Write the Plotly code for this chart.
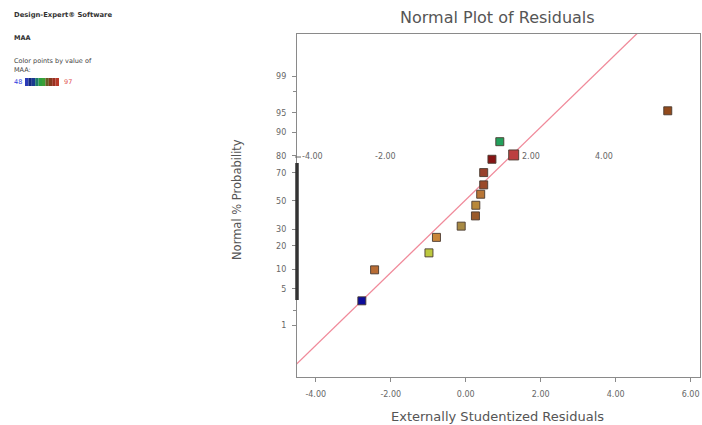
import plotly.graph_objects as go
from statistics import NormalDist

# ---------------- data ----------------
residuals = [-2.77, -2.43, -0.98, -0.78, -0.12, 0.26, 0.27, 0.40, 0.48, 0.48, 0.70, 1.28, 0.91, 5.39]
prob_pct = [3.1, 9.9, 16.6, 24.8, 31.9, 39.0, 46.8, 55.0, 61.8, 70.2, 78.2, 80.5, 86.6, 95.4]
point_colors = ["#0c0c9a", "#b86c34", "#bcc83e", "#c9863a", "#a88a44", "#9a5a2a",
                "#b8883a", "#b87636", "#9a4a2a", "#98402c", "#861414", "#bc4040",
                "#22a05c", "#924a1c"]
point_sizes = [8, 8, 8, 8, 8, 8, 8, 8, 8, 8, 8, 10, 8, 8]

ytick_pct = [1, 5, 10, 20, 30, 50, 70, 80, 90, 95, 99]
ytick_minor_pct = [2, 98]
xtick_vals = [-4, -2, 0, 2, 4, 6]
xtick_text = ["-4.00", "-2.00", "0.00", "2.00", "4.00", "6.00"]

# reference line (normal z vs residual)
line_x = [-4.7, 4.9]
line_slope = 0.68
line_intercept = 0.02

# stray secondary axis labels drawn in the reference
stray_vals = [-4, -2, 2, 4]
stray_text = ["-4.00", "-2.00", "2.00", "4.00"]
stray_pct = 79.5

colorbar_colors = ["#2a3ab8", "#142a80", "#1a3a90", "#1f7a6a", "#2ca040",
                   "#3aa038", "#6a5a24", "#843a1e", "#9a3020", "#b83828"]

nd = NormalDist()
def z(p):
    return nd.inv_cdf(p / 100.0)

# ---------------- geometry helpers ----------------
W, H = 702, 425
L, R, T, B = 297, 700, 34, 377
def xp(px):
    return (px - L) / (R - L)
def yp(py):
    return (B - py) / (B - T)

fig = go.Figure()

# reference line
fig.add_trace(go.Scatter(
    x=line_x, y=[line_intercept + line_slope * v for v in line_x],
    mode="lines", line=dict(color="#f08a9a", width=1.3),
    hoverinfo="skip", showlegend=False))

# points
fig.add_trace(go.Scatter(
    x=residuals, y=[z(p) for p in prob_pct], mode="markers",
    marker=dict(symbol="square", size=point_sizes, color=point_colors, opacity=1,
                line=dict(color="#4a3a30", width=0.9)),
    showlegend=False))

font = "DejaVu Sans"
fig.update_layout(
    width=W, height=H,
    margin=dict(l=L, r=W - R, t=T, b=H - B),
    paper_bgcolor="white", plot_bgcolor="white",
    font=dict(family=font, color="#555555"),
    xaxis=dict(range=[-4.5, 6.25], tickvals=xtick_vals, ticktext=xtick_text,
               showgrid=False, zeroline=False, showline=True, mirror=True,
               linecolor="#8a8a8a", linewidth=1.2, ticks="outside", ticklen=4,
               ticklabelstandoff=5,
               tickcolor="#8a8a8a", tickfont=dict(size=8, color="#666666")),
    yaxis=dict(range=[-3.29, 3.12], tickvals=[z(p) for p in ytick_pct],
               ticktext=[str(p) for p in ytick_pct],
               showgrid=False, zeroline=False, showline=True, mirror=True,
               linecolor="#8a8a8a", linewidth=1.2, ticks="outside", ticklen=4,
               ticklabelstandoff=4,
               tickcolor="#8a8a8a", tickfont=dict(size=8, color="#666666"),
               minor=dict(tickvals=[z(p) for p in ytick_minor_pct], ticks="outside",
                          ticklen=3, tickcolor="#8a8a8a")),
)

def A(x, y, text, size, color="#555555", xanchor="center", **kw):
    return dict(x=x, y=y, xref="paper", yref="paper", showarrow=False, text=text,
                xanchor=xanchor, yanchor="middle", font=dict(size=size, color=color), **kw)

ann = []
ann.append(A(xp(497), yp(18), "Normal Plot of Residuals", 16, "#555555"))
ann.append(A(xp(497), yp(416), "Externally Studentized Residuals", 13, "#555555"))
ann.append(A(xp(237), yp(200), "Normal % Probability", 11.5, "#555555", textangle=-90))
for v, t in zip(stray_vals, stray_text):
    ann.append(dict(x=v * 0.97 - 0.2, y=z(stray_pct), xref="x", yref="y", showarrow=False,
                    text=t, yanchor="middle", font=dict(size=8, color="#666666")))
ann.append(A(xp(12), yp(15), "<b>Design-Expert® Software</b>", 6.8, "#333333", "left"))
ann.append(A(xp(12), yp(38), "<b>MAA</b>", 6.5, "#333333", "left"))
ann.append(A(xp(12), yp(61), "Color points by value of", 6.5, "#444444", "left"))
ann.append(A(xp(12), yp(70), "MAA:", 6.5, "#444444", "left"))
ann.append(A(xp(12), yp(82), "48", 6.5, "#3040e0", "left"))
ann.append(A(xp(62), yp(82), "97", 6.5, "#e05050", "left"))

shapes = []
n = len(colorbar_colors)
x0, x1 = 25, 59
for i, c in enumerate(colorbar_colors):
    shapes.append(dict(type="rect", xref="paper", yref="paper",
                       x0=xp(x0 + (x1 - x0) * i / n), x1=xp(x0 + (x1 - x0) * (i + 1) / n),
                       y0=yp(86), y1=yp(78), fillcolor=c, line=dict(width=0), layer="above"))
shapes.append(dict(type="line", xref="paper", yref="paper", x0=xp(297), x1=xp(297),
                   y0=yp(163), y1=yp(300), line=dict(color="#333333", width=3.5)))
shapes.append(dict(type="line", xref="paper", yref="paper", x0=xp(295), x1=xp(301),
                   y0=yp(157), y1=yp(157), line=dict(color="#666666", width=1)))

fig.update_layout(annotations=ann, shapes=shapes)
fig.write_html("out.html")
